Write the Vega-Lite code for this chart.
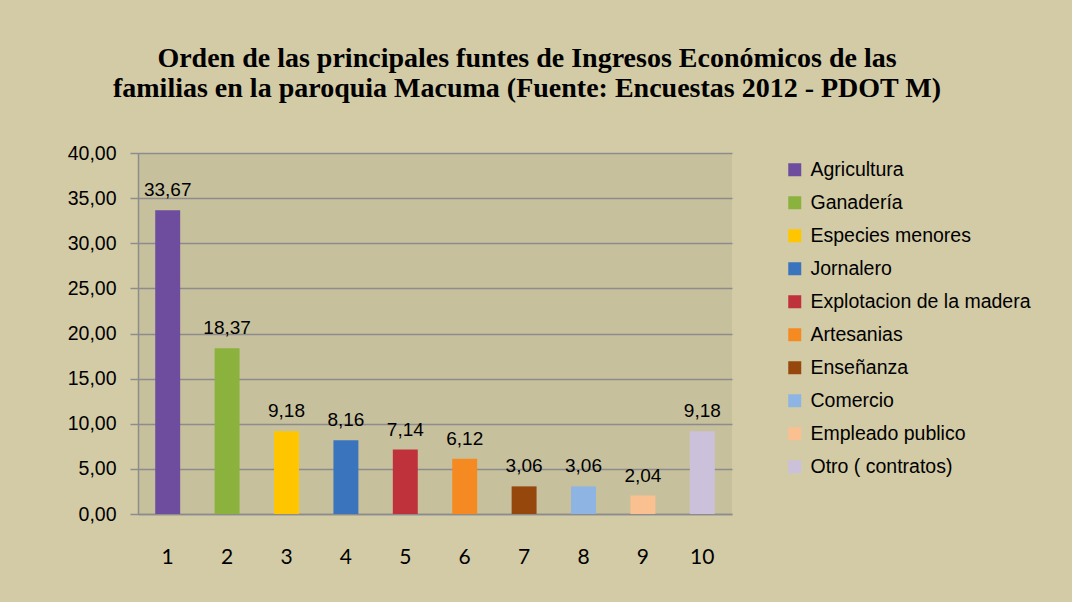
{
  "$schema": "https://vega.github.io/schema/vega-lite/v6.json",
  "width": 594,
  "height": 361,
  "autosize": {"type": "none"},
  "padding": {"left": 138, "top": 153, "right": 340, "bottom": 88},
  "background": "#d3cba6",
  "config": {
    "locale": {"number": {"decimal": ",", "thousands": ".", "grouping": [3], "currency": ["$", ""]}},
    "view": {"fill": "#c7c09c", "stroke": null},
    "font": "Liberation Sans"
  },
  "title": {
    "text": ["Orden de las principales funtes de Ingresos Económicos  de las", "familias en la paroquia Macuma  (Fuente: Encuestas 2012 - PDOT M)"],
    "font": "Liberation Serif",
    "fontSize": 28,
    "fontWeight": "bold",
    "color": "#000000",
    "anchor": "middle",
    "dx": 92,
    "offset": 40,
    "lineHeight": 30
  },
  "data": {
    "values": [
      {"n": "1", "fuente": "Agricultura", "valor": 33.67},
      {"n": "2", "fuente": "Ganadería", "valor": 18.37},
      {"n": "3", "fuente": "Especies menores", "valor": 9.18},
      {"n": "4", "fuente": "Jornalero", "valor": 8.16},
      {"n": "5", "fuente": "Explotacion de la madera", "valor": 7.14},
      {"n": "6", "fuente": "Artesanias", "valor": 6.12},
      {"n": "7", "fuente": "Enseñanza", "valor": 3.06},
      {"n": "8", "fuente": "Comercio", "valor": 3.06},
      {"n": "9", "fuente": "Empleado publico", "valor": 2.04},
      {"n": "10", "fuente": "Otro ( contratos)", "valor": 9.18}
    ]
  },
  "encoding": {
    "x": {
      "field": "n",
      "type": "nominal",
      "sort": null,
      "scale": {"paddingInner": 0.58, "paddingOuter": 0.29},
      "axis": {
        "title": null,
        "labelAngle": 0,
        "labelFont": "Lato",
        "labelFontSize": 21,
        "labelColor": "#000000",
        "labelPadding": 32,
        "ticks": false,
        "domainColor": "#8c8c8c",
        "domainWidth": 1.5
      }
    },
    "y": {
      "field": "valor",
      "type": "quantitative",
      "scale": {"domain": [0, 40]},
      "axis": {
        "title": null,
        "values": [0, 5, 10, 15, 20, 25, 30, 35, 40],
        "format": ".2f",
        "labelFontSize": 19.5,
        "labelColor": "#000000",
        "labelPadding": 14,
        "tickSize": 8,
        "tickColor": "#8c8c8c",
        "tickWidth": 1.5,
        "domainColor": "#8c8c8c",
        "domainWidth": 1.5,
        "gridColor": "#8c8c8c",
        "gridWidth": 1.5
      }
    }
  },
  "layer": [
    {
      "mark": {"type": "bar"},
      "encoding": {
        "color": {
          "field": "fuente",
          "type": "nominal",
          "scale": {
            "domain": ["Agricultura", "Ganadería", "Especies menores", "Jornalero", "Explotacion de la madera", "Artesanias", "Enseñanza", "Comercio", "Empleado publico", "Otro ( contratos)"],
            "range": ["#6e4c9e", "#8ab23c", "#ffc600", "#3a74bd", "#bf323b", "#f58a22", "#96480c", "#8eb4e3", "#fac090", "#ccc1da"]
          },
          "legend": {
            "title": null,
            "orient": "none",
            "legendX": 647,
            "legendY": 7,
            "symbolType": "square",
            "symbolSize": 169,
            "symbolStrokeWidth": 0,
            "labelFontSize": 19.5,
            "labelLimit": 400,
            "labelColor": "#000000",
            "labelOffset": 6,
            "rowPadding": 12
          }
        }
      }
    },
    {
      "mark": {"type": "text", "baseline": "bottom", "dy": -10, "fontSize": 19, "color": "#000000"},
      "encoding": {
        "text": {"field": "valor", "type": "quantitative", "format": ".2f"}
      }
    }
  ]
}
